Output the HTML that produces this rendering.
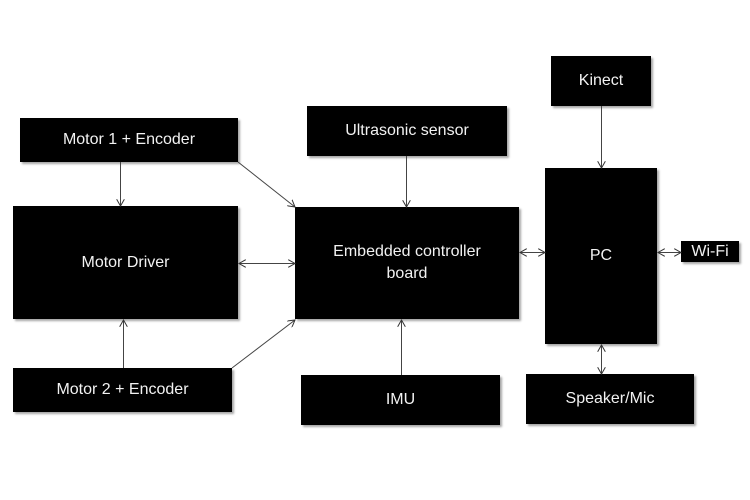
<!DOCTYPE html>
<html><head><meta charset="utf-8"><style>
html,body{margin:0;padding:0;background:#fff;}
body{width:750px;height:500px;position:relative;overflow:hidden;font-family:"Liberation Sans",sans-serif;}
.b{position:absolute;background:#000;color:#f2f2f2;display:flex;align-items:center;justify-content:center;text-align:center;font-size:16px;line-height:22px;box-shadow:2px 2px 2px rgba(0,0,0,0.35);}
svg{position:absolute;left:0;top:0;}
</style></head><body>
<div class="b" style="left:20px;top:118px;width:218px;height:44px;">Motor 1 + Encoder</div>
<div class="b" style="left:13px;top:206px;width:225px;height:113px;">Motor Driver</div>
<div class="b" style="left:13px;top:368px;width:219px;height:44px;">Motor 2 + Encoder</div>
<div class="b" style="left:307px;top:106px;width:200px;height:50px;">Ultrasonic sensor</div>
<div class="b" style="left:295px;top:207px;width:224px;height:112px;">Embedded controller<br>board</div>
<div class="b" style="left:301px;top:375px;width:199px;height:50px;">IMU</div>
<div class="b" style="left:551px;top:56px;width:100px;height:50px;">Kinect</div>
<div class="b" style="left:545px;top:168px;width:112px;height:176px;">PC</div>
<div class="b" style="left:681px;top:241px;width:58px;height:21px;">Wi-Fi</div>
<div class="b" style="left:526px;top:374px;width:168px;height:50px;">Speaker/Mic</div>
<svg width="750" height="500">
<defs><marker id="a" markerWidth="8" markerHeight="8" refX="7" refY="4" orient="auto-start-reverse" markerUnits="userSpaceOnUse"><path d="M0,0 L7,4 L0,8" fill="none" stroke="#333" stroke-width="1"/></marker></defs>
<g stroke="#444" stroke-width="1" fill="none">
<line x1="120.5" y1="162" x2="120.5" y2="206" marker-end="url(#a)"/>
<line x1="238" y1="162" x2="295" y2="207" marker-end="url(#a)"/>
<line x1="123.5" y1="368" x2="123.5" y2="320" marker-end="url(#a)"/>
<line x1="232" y1="368" x2="295" y2="320" marker-end="url(#a)"/>
<line x1="239" y1="263.5" x2="295" y2="263.5" marker-start="url(#a)" marker-end="url(#a)"/>
<line x1="406.5" y1="156" x2="406.5" y2="207" marker-end="url(#a)"/>
<line x1="401.5" y1="375" x2="401.5" y2="320" marker-end="url(#a)"/>
<line x1="520" y1="252.5" x2="545" y2="252.5" marker-start="url(#a)" marker-end="url(#a)"/>
<line x1="658" y1="252.5" x2="681" y2="252.5" marker-start="url(#a)" marker-end="url(#a)"/>
<line x1="601.5" y1="106" x2="601.5" y2="168" marker-end="url(#a)"/>
<line x1="601.5" y1="345" x2="601.5" y2="374" marker-start="url(#a)" marker-end="url(#a)"/>
</g></svg>
</body></html>
